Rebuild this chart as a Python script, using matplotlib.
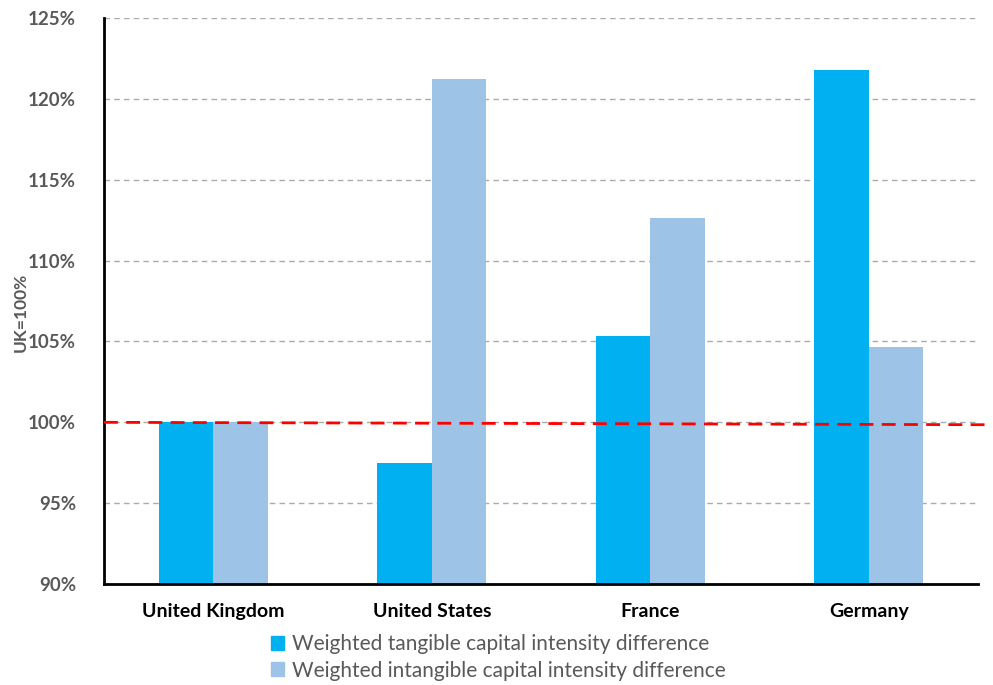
import matplotlib.pyplot as plt
import numpy as np
from matplotlib.patches import Patch
from matplotlib.ticker import FuncFormatter

plt.rcParams['font.family'] = ['Lato', 'DejaVu Sans']

countries = ['United Kingdom', 'United States', 'France', 'Germany']
tangible = [100.0, 97.5, 105.35, 121.8]
intangible = [100.0, 121.2, 112.65, 104.65]
ref_line = [100.0, 99.85]

c_tan = '#00B0F0'
c_int = '#9DC3E6'
grey = '#595959'

fig = plt.figure(figsize=(9.93, 6.85), dpi=100)
ax = fig.add_axes([0.1047, 0.1474, 0.8803, 0.8263])

x = np.arange(len(countries))
w = 0.25
ax.bar(x - w / 2, tangible, w, color=c_tan, zorder=2)
ax.bar(x + w / 2, intangible, w, color=c_int, zorder=2)

ax.set_ylim(90, 125)
ax.set_xlim(-0.5, 3.5)
ax.set_yticks(np.arange(90, 126, 5))
ax.yaxis.set_major_formatter(FuncFormatter(lambda v, p: f'{v:.0f}%'))
ax.grid(axis='y', color='#ABABAB', linestyle=(0, (4, 3)), linewidth=1, zorder=0)
ax.set_axisbelow(True)

# UK baseline, runs a little past the plot area
ax.plot([-0.5, 3.56], ref_line, color='#FF0000', linestyle=(0, (5, 3)),
        linewidth=2, zorder=3, clip_on=False)

for s in ['top', 'right']:
    ax.spines[s].set_visible(False)
for s in ['left', 'bottom']:
    ax.spines[s].set_linewidth(2)
    ax.spines[s].set_color('black')

ax.tick_params(axis='both', length=0)
ax.tick_params(axis='y', pad=20, labelsize=13.5, labelcolor=grey)
ax.tick_params(axis='x', pad=14, labelsize=14)
ax.set_xticks(x)
ax.set_xticklabels(countries, fontweight='bold')
for t in ax.get_yticklabels():
    t.set_fontweight('bold')

ax.set_ylabel('UK=100%', fontsize=12.5, fontweight='bold', color=grey)
ax.yaxis.set_label_coords(-0.086, 0.48)

handles = [Patch(color=c_tan, label='Weighted tangible capital intensity difference'),
           Patch(color=c_int, label='Weighted intangible capital intensity difference')]
fig.legend(handles=handles, loc='upper left', bbox_to_anchor=(0.262, 0.089),
           frameon=False, fontsize=15, handlelength=0.65, handleheight=0.65,
           handletextpad=0.4, labelspacing=0.3, borderpad=0, labelcolor=grey)

fig.savefig('out.png', dpi=100)
